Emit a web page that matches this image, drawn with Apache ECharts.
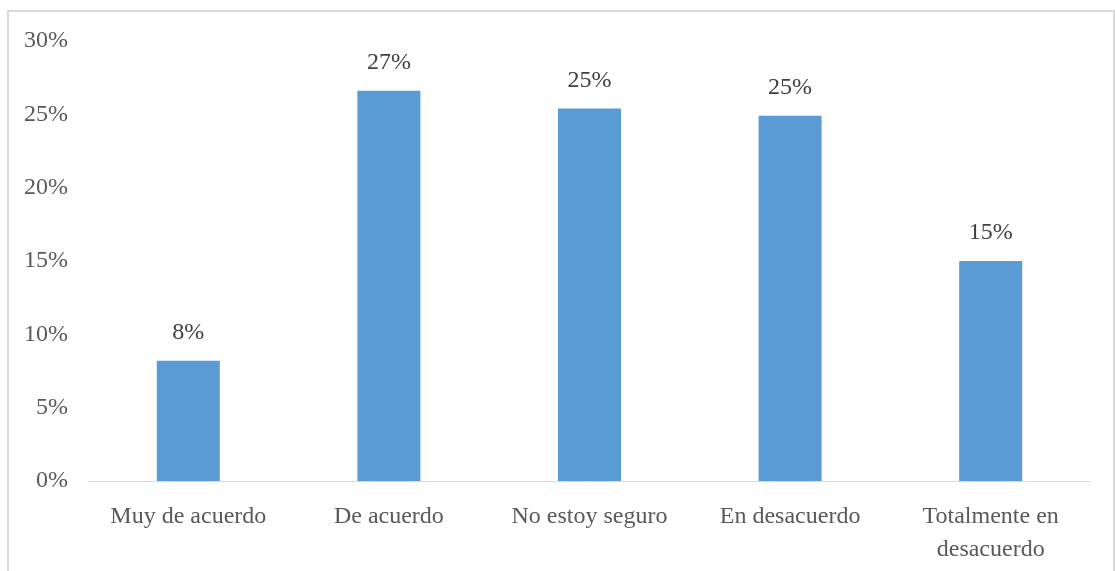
<!DOCTYPE html>
<html><head><meta charset="utf-8">
<script src="https://cdn.jsdelivr.net/npm/echarts@6/dist/echarts.min.js"></script>
<style>html,body{margin:0;padding:0;background:#fff}#c{width:1115px;height:571px}</style>
</head><body><div id="c"></div>
<script>
const categories = ["Muy de acuerdo", "De acuerdo", "No estoy seguro", "En desacuerdo", "Totalmente en\ndesacuerdo"];
const values = [8.2, 26.6, 25.4, 24.9, 15.0];
const yTicks = [0, 5, 10, 15, 20, 25, 30];

const chart = echarts.init(document.getElementById('c'));
const font = 'Liberation Serif, Times New Roman, serif';
chart.setOption({
  animation: false,
  backgroundColor: '#fff',
  graphic: [{
    type: 'rect', shape: {x: 8, y: 11, width: 1106, height: 600},
    style: {fill: 'none', stroke: '#d9d9d9', lineWidth: 2}, silent: true, z: -1
  }],
  grid: {left: 88, right: 24, top: 41, bottom: 90, containLabel: false},
  xAxis: {
    type: 'category', data: categories,
    axisLine: {lineStyle: {color: '#d9d9d9', width: 1}},
    axisTick: {show: false},
    axisLabel: {color: '#595959', fontFamily: font, fontSize: 24, margin: 19, lineHeight: 33, interval: 0}
  },
  yAxis: {
    type: 'value', min: yTicks[0], max: yTicks[yTicks.length - 1], interval: 5,
    axisLine: {show: false}, axisTick: {show: false}, splitLine: {show: false},
    axisLabel: {color: '#595959', fontFamily: font, fontSize: 24, margin: 20, formatter: v => v + '%'}
  },
  series: [{
    type: 'bar', data: values, barWidth: 63,
    itemStyle: {color: '#5b9bd5'},
    label: {show: true, position: 'top', distance: 16, color: '#404040', fontFamily: font, fontSize: 24,
      formatter: p => Math.round(p.value) + '%'}
  }]
});
</script></body></html>
